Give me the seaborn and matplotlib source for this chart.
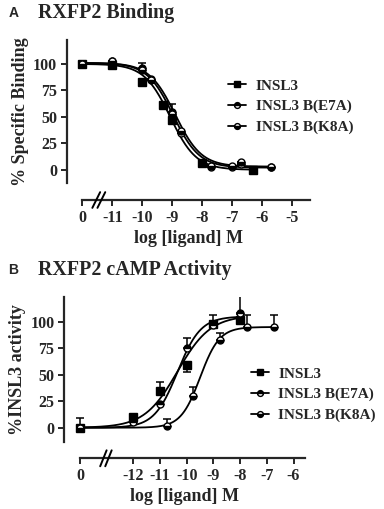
import numpy as np
import pandas as pd
import matplotlib
matplotlib.use("Agg")
import matplotlib.pyplot as plt
import matplotlib.transforms as mtransforms
from matplotlib.lines import Line2D
import seaborn as sns

sns.set_style("ticks")
plt.rcParams['font.family'] = ['Liberation Serif', 'DejaVu Serif']
plt.rcParams['font.weight'] = 'bold'
plt.rcParams['axes.labelweight'] = 'bold'

series_names = ["INSL3", "INSL3 B(E7A)", "INSL3 B(K8A)"]

# ---------------- Panel A: RXFP2 Binding ----------------
a_xticks = [-12, -11, -10, -9, -8, -7, -6, -5]
a_xticklabels = ["0", "-11", "-10", "-9", "-8", "-7", "-6", "-5"]
a_yticks = [0, 25, 50, 75, 100]

a_insl3_x = [-12, -11, -10, -9.3, -9.0, -8.0, -6.3]
a_insl3_y = [100, 99, 83, 61, 47, 6, 0]
a_insl3_err = [0, 0, 0, 0, 0, 0, 0]

a_e7a_x = [-12, -11, -10, -9.7, -9.0, -8.7, -7.7, -7.0, -6.7, -5.7]
a_e7a_y = [100, 103, 96, 86, 55, 35, 3, 3, 5, 3]
a_e7a_err = [0, 0, 5, 0, 7, 0, 0, 0, 0, 0]

a_k8a_x = [-12, -11, -10, -9.7, -9.0, -8.7, -7.7, -7.0, -6.7, -5.7]
a_k8a_y = [100, 103, 94, 85, 53, 37, 4, 4, 7, 3]
a_k8a_err = [0, 0, 0, 0, 0, 0, 0, 0, 0, 0]

# fitted curve parameters (bottom, top, logIC50, hill, x-start, x-end)
a_fit_bottom = [0, 2, 3]
a_fit_top = [100, 101, 101]
a_fit_logc = [-9.07, -8.97, -8.9]
a_fit_hill = [-1.0, -1.0, -1.0]
a_fit_xmin = [-12, -12, -12]
a_fit_xmax = [-6.3, -5.7, -5.7]

# ---------------- Panel B: RXFP2 cAMP Activity ----------------
b_xticks = [-14, -12, -11, -10, -9, -8, -7, -6]
b_xticklabels = ["0", "-12", "-11", "-10", "-9", "-8", "-7", "-6"]
b_yticks = [0, 25, 50, 75, 100]

b_insl3_x = [-14, -12, -11, -10, -9, -8]
b_insl3_y = [0, 10, 35, 59, 98, 102]
b_insl3_err_lo = [0, 0, 0, 6, 0, 0]
b_insl3_err_hi = [9, 0, 8, 0, 8, 5]

b_e7a_x = [-14, -12, -11, -10, -9, -8]
b_e7a_y = [0, 5, 22, 75, 97, 108]
b_e7a_err_lo = [0, 0, 0, 0, 0, 0]
b_e7a_err_hi = [0, 0, 0, 10, 0, 16]

b_k8a_x = [-14, -10.75, -9.75, -8.75, -7.75, -6.75]
b_k8a_y = [0, 2, 30, 83, 95, 95]
b_k8a_err_lo = [0, 0, 0, 0, 0, 0]
b_k8a_err_hi = [0, 6, 8, 6, 11, 11]

b_fit_bottom = [0, 0, 0]
b_fit_top = [106, 105, 95]
b_fit_logc = [-10.35, -10.35, -9.5]
b_fit_hill = [0.7, 1.0, 1.2]
b_fit_xmin = [-14, -14, -14]
b_fit_xmax = [-8, -8, -6.75]


def four_pl(x, bottom, top, logc, hill):
    return bottom + (top - bottom) / (1 + 10 ** ((logc - x) * hill))


W, H = 384, 509
fig = plt.figure(figsize=(W / 100, H / 100), dpi=100)


def px_axes(left, right, top, bottom):
    return fig.add_axes([left / W, 1 - bottom / H, (right - left) / W, (bottom - top) / H])


axA = px_axes(67, 310, 40, 183)
axB = px_axes(64.3, 305, 296.7, 441.7)

marker_styles = [
    dict(marker='s', ms=5.5, mfc='black', mec='black', mew=1.0),
    dict(marker='o', ms=5.0, fillstyle='top', mfc='black', mfcalt='white', mec='black', mew=1.0),
    dict(marker='o', ms=5.0, fillstyle='bottom', mfc='black', mfcalt='white', mec='black', mew=1.0),
]


def draw_panel(ax, pts, fits, xlim, ylim, xticks, xticklabels, yticks, xbounds,
               ylabel, legend_anchor, break_x, break_dx, break_sep, offset_px):
    # fitted curves via seaborn
    for i, (b, t, c, h, x0, x1) in enumerate(fits):
        xs = np.linspace(x0, x1, 300)
        df = pd.DataFrame({"x": xs, "y": four_pl(xs, b, t, c, h)})
        sns.lineplot(data=df, x="x", y="y", ax=ax, color="black", lw=1.3,
                     legend=False, zorder=2)
    # error bars
    for (x, y, lo, hi), st in zip(pts, marker_styles):
        ax.errorbar(x, y, yerr=[lo, hi], fmt='none', ecolor='black',
                    elinewidth=1.1, capsize=3.2, capthick=1.1, zorder=3)
    for (x, y, lo, hi), st in zip(pts, marker_styles):
        ax.plot(x, y, ls='none', zorder=4, **st)

    ax.set_xlim(*xlim)
    ax.set_ylim(*ylim)
    ax.set_xticks(xticks)
    ax.set_xticklabels(xticklabels)
    ax.set_yticks(yticks)
    for s in ['top', 'right']:
        ax.spines[s].set_visible(False)
    for s in ['left', 'bottom']:
        ax.spines[s].set_linewidth(1.6)
    ax.spines['bottom'].set_position(('outward', offset_px * 72 / 100))
    ax.spines['bottom'].set_bounds(*xbounds)
    ax.tick_params(axis='both', direction='out', length=4, width=1.4,
                   labelsize=11.5, pad=3)
    for lab in ax.get_xticklabels() + ax.get_yticklabels():
        lab.set_fontweight('bold')
    ax.set_xlabel("log [ligand] M", fontsize=13, fontweight='bold', labelpad=3)
    ax.set_ylabel(ylabel, fontsize=13, fontweight='bold', labelpad=3)

    # axis break marks
    trans = ax.get_xaxis_transform() + mtransforms.ScaledTranslation(
        0, -offset_px / 100, fig.dpi_scale_trans)
    for k in (-0.5, 0.5):
        xc = break_x + k * break_sep
        ax.plot([xc - break_dx, xc + break_dx], [-0.055, 0.055], transform=trans,
                color='black', lw=1.4, clip_on=False, zorder=5)

    handles = [Line2D([], [], color='black', lw=1.3, **dict(st, ms=st['ms'] - 0.8))
               for st in marker_styles]
    ax.legend(handles, series_names, loc='upper left', bbox_to_anchor=legend_anchor,
              frameon=False, fontsize=11, handlelength=1.2, handletextpad=0.6,
              labelspacing=0.45, borderpad=0, borderaxespad=0,
              prop={'weight': 'bold', 'size': 11})


draw_panel(
    axA,
    [(a_insl3_x, a_insl3_y, [0] * len(a_insl3_x), a_insl3_err),
     (a_e7a_x, a_e7a_y, [0] * len(a_e7a_x), a_e7a_err),
     (a_k8a_x, a_k8a_y, [0] * len(a_k8a_x), a_k8a_err)],
    list(zip(a_fit_bottom, a_fit_top, a_fit_logc, a_fit_hill, a_fit_xmin, a_fit_xmax)),
    (-12.51, -4.41), (-12.5, 122.6), a_xticks, a_xticklabels, a_yticks, (-12, -4.41),
    "% Specific Binding", ((228 - 67) / 243, 1 - (79 - 40) / 143),
    -11.45, 0.13, 0.17, 17,
)

draw_panel(
    axB,
    [(b_insl3_x, b_insl3_y, b_insl3_err_lo, b_insl3_err_hi),
     (b_e7a_x, b_e7a_y, b_e7a_err_lo, b_e7a_err_hi),
     (b_k8a_x, b_k8a_y, b_k8a_err_lo, b_k8a_err_hi)],
    list(zip(b_fit_bottom, b_fit_top, b_fit_logc, b_fit_hill, b_fit_xmin, b_fit_xmax)),
    (-14.59, -5.57), (-13.2, 123.6), b_xticks, b_xticklabels, b_yticks, (-14, -5.57),
    "%INSL3 activity", ((251 - 64.3) / 240.7, 1 - (367 - 296.7) / 145),
    -13.03, 0.12, 0.19, 16.6,
)

# panel titles
fig.text(9 / W, 1 - 16.7 / H, "A", family=['Liberation Sans', 'DejaVu Sans'],
         fontweight='bold', fontsize=10, va='baseline', ha='left')
fig.text(38 / W, 1 - 18.3 / H, "RXFP2 Binding", fontweight='bold', fontsize=14.4,
         va='baseline', ha='left')
fig.text(8 / W, 1 - 274.5 / H, "B", family=['Liberation Sans', 'DejaVu Sans'],
         fontweight='bold', fontsize=10, va='baseline', ha='left')
fig.text(38 / W, 1 - 275 / H, "RXFP2 cAMP Activity", fontweight='bold', fontsize=14.4,
         va='baseline', ha='left')

fig.savefig("out.png", dpi=100)
